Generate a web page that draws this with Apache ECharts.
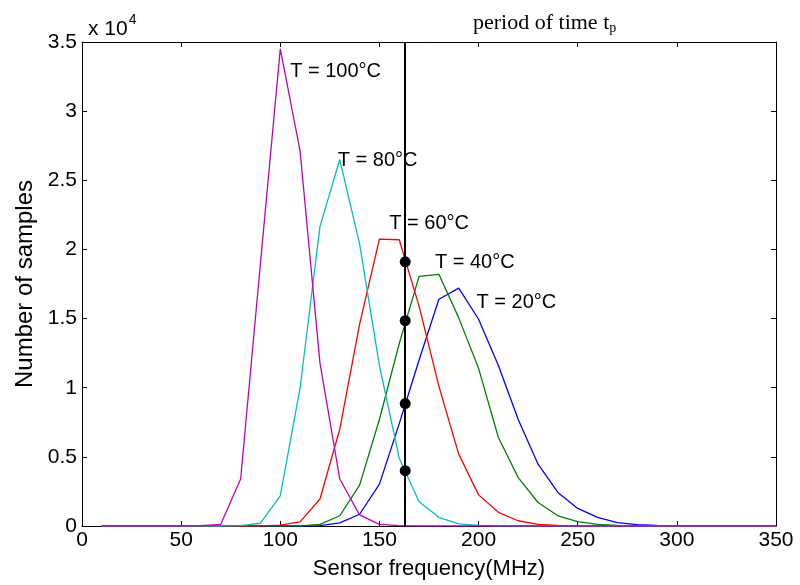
<!DOCTYPE html>
<html>
<head>
<meta charset="utf-8">
<script src="https://cdn.jsdelivr.net/npm/echarts@6/dist/echarts.min.js"></script>
<style>
  html, body { margin: 0; padding: 0; background: #fff; }
</style>
</head>
<body>
<div id="chart" style="width:800px;height:585px;"></div>
<script>
// sensor frequency (MHz)
var freq = [10, 20, 30, 40, 50, 60, 70, 80, 90, 100, 110, 120, 130, 140, 150, 160, 170, 180,
            190, 200, 210, 220, 230, 240, 250, 260, 270, 280, 290, 300, 310, 320, 330, 340, 350];

// number of samples per temperature
var t20 = [0, 0, 0, 0, 0, 0, 0, 0, 0, 0, 0, 20, 220, 850, 3030, 7400, 12000, 16400,
           17200, 14950, 11600, 7700, 4470, 2430, 1270, 630, 250, 100, 40, 10, 0, 0, 0, 0, 0];
var t40 = [0, 0, 0, 0, 0, 0, 0, 0, 0, 0, 0, 120, 740, 2960, 7700, 13200, 18050, 18200,
           15050, 11400, 6400, 3500, 1700, 740, 310, 110, 40, 10, 0, 0, 0, 0, 0, 0, 0];
var t60 = [0, 0, 0, 0, 0, 0, 0, 0, 0, 60, 300, 1950, 7000, 14600, 20750, 20700, 15900, 10100,
           5200, 2250, 990, 380, 120, 40, 10, 0, 0, 0, 0, 0, 0, 0, 0, 0, 0];
var t80 = [0, 0, 0, 0, 0, 0, 0, 30, 200, 2180, 10000, 21650, 26500, 20400, 11600, 4900, 1750, 630,
           150, 40, 0, 0, 0, 0, 0, 0, 0, 0, 0, 0, 0, 0, 0, 0, 0];
var t100 = [0, 0, 0, 0, 0, 20, 120, 3400, 19000, 34500, 27100, 11800, 3400, 800, 120, 30, 0, 0,
            0, 0, 0, 0, 0, 0, 0, 0, 0, 0, 0, 0, 0, 0, 0, 0, 0];

// period of time t_p and the crossing points
var tp = 163;
var dotValues = [19100, 14850, 8850, 4000];

// curve labels [x, y, text]
var labels = [
  [105, 32900, "T = 100°C"],
  [129, 26460, "T = 80°C"],
  [155, 21900, "T = 60°C"],
  [178, 19060, "T = 40°C"],
  [199, 16170, "T = 20°C"]
];

function pairs(vals) {
  return freq.map(function (f, i) { return [f, vals[i]]; });
}

var font = "Liberation Sans, Arial, sans-serif";
var serif = "Liberation Serif, Times New Roman, serif";

var myChart = echarts.init(document.getElementById("chart"));

var option = {
  animation: false,
  backgroundColor: "#fff",
  title: [
    {
      text: "{a|period of time t}{b|p}",
      left: 468, top: 6,
      textStyle: {
        rich: {
          a: { fontFamily: serif, fontSize: 22, fontWeight: "normal", color: "#000" },
          b: { fontFamily: serif, fontSize: 14, fontWeight: "normal", color: "#000", padding: [10, 0, 0, 0] }
        }
      }
    },
    {
      text: "{a|x 10}{b|4}",
      left: 83, top: 6,
      textStyle: {
        rich: {
          a: { fontFamily: font, fontSize: 21, fontWeight: "normal", color: "#000", padding: [8, 0, 0, 0] },
          b: { fontFamily: font, fontSize: 14, fontWeight: "normal", color: "#000", padding: [0, 0, 10, 1] }
        }
      }
    }
  ],
  grid: { left: 82, right: 24, top: 42, bottom: 58 },
  xAxis: [
    {
      type: "value", min: 0, max: 350, interval: 50,
      name: "Sensor frequency(MHz)", nameLocation: "middle", nameGap: 32,
      nameTextStyle: { fontFamily: font, fontSize: 22, color: "#000" },
      axisLine: { onZero: false, lineStyle: { color: "#000", width: 1 } },
      axisTick: { inside: true, length: 5, lineStyle: { color: "#000" } },
      axisLabel: { fontFamily: font, fontSize: 21, color: "#000", margin: 4 },
      splitLine: { show: false }
    },
    {
      type: "value", min: 0, max: 350, interval: 50, position: "top",
      axisLine: { show: true, onZero: false, lineStyle: { color: "#000", width: 1 } },
      axisTick: { inside: true, length: 5, lineStyle: { color: "#000" } },
      axisLabel: { show: false },
      splitLine: { show: false }
    }
  ],
  yAxis: [
    {
      type: "value", min: 0, max: 35000, interval: 5000,
      name: "Number of samples", nameLocation: "middle", nameGap: 44,
      nameTextStyle: { fontFamily: font, fontSize: 24, color: "#000" },
      axisLine: { show: true, onZero: false, lineStyle: { color: "#000", width: 1 } },
      axisTick: { show: true, inside: true, length: 5, lineStyle: { color: "#000" } },
      axisLabel: {
        fontFamily: font, fontSize: 21, color: "#000", margin: 5,
        formatter: function (v) { return String(v / 10000); }
      },
      splitLine: { show: false }
    },
    {
      type: "value", min: 0, max: 35000, interval: 5000, position: "right",
      axisLine: { show: true, onZero: false, lineStyle: { color: "#000", width: 1 } },
      axisTick: { show: true, inside: true, length: 5, lineStyle: { color: "#000" } },
      axisLabel: { show: false },
      splitLine: { show: false }
    }
  ],
  series: [
    { name: "T = 20°C", type: "line", data: pairs(t20), symbol: "none", lineStyle: { color: "#0000ff", width: 1.3 } },
    { name: "T = 40°C", type: "line", data: pairs(t40), symbol: "none", lineStyle: { color: "#008000", width: 1.3 } },
    { name: "T = 60°C", type: "line", data: pairs(t60), symbol: "none", lineStyle: { color: "#ff0000", width: 1.3 } },
    { name: "T = 80°C", type: "line", data: pairs(t80), symbol: "none", lineStyle: { color: "#00bfbf", width: 1.3 } },
    {
      name: "T = 100°C", type: "line", data: pairs(t100), symbol: "none",
      lineStyle: { color: "#bf00bf", width: 1.3 },
      markLine: {
        silent: true, symbol: "none", label: { show: false },
        lineStyle: { color: "#000", width: 2, type: "solid" },
        data: [{ xAxis: tp }]
      }
    },
    {
      type: "scatter", symbol: "circle", symbolSize: 11, z: 5,
      itemStyle: { color: "#000", opacity: 1 },
      data: dotValues.map(function (v) { return [tp, v]; })
    },
    {
      type: "scatter", symbolSize: 0, silent: true,
      itemStyle: { color: "#000", opacity: 1 },
      data: labels.map(function (l) { return { value: [l[0], l[1]], name: l[2] }; }),
      label: {
        show: true, position: "right", distance: 0, opacity: 1,
        formatter: function (p) { return p.name; },
        fontFamily: font, fontSize: 20, color: "#000"
      }
    }
  ]
};

myChart.setOption(option);
window.addEventListener("resize", function () {
  myChart.resize();
});
</script>
</body>
</html>
